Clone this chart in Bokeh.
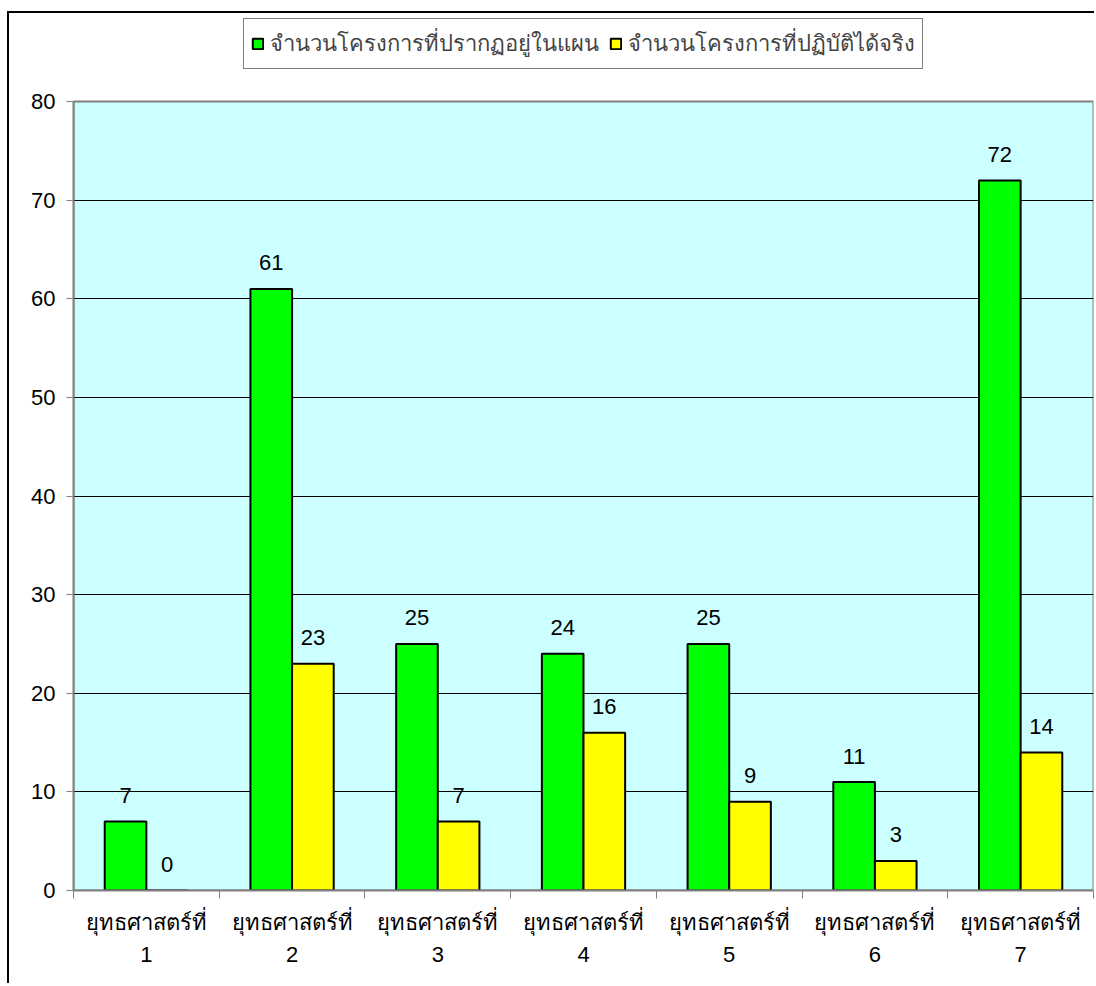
from bokeh.plotting import figure
from bokeh.models import FixedTicker, Range1d, Legend, LegendItem, ColumnDataSource
from bokeh.core.properties import value
from bokeh.embed import file_html
from bokeh.resources import INLINE

categories = ["ยุทธศาสตร์ที่\n1", "ยุทธศาสตร์ที่\n2", "ยุทธศาสตร์ที่\n3", "ยุทธศาสตร์ที่\n4",
              "ยุทธศาสตร์ที่\n5", "ยุทธศาสตร์ที่\n6", "ยุทธศาสตร์ที่\n7"]
planned = [7, 61, 25, 24, 25, 11, 72]
actual = [0, 23, 7, 16, 9, 3, 14]
series_names = ["จำนวนโครงการที่ปรากฏอยู่ในแผน", "จำนวนโครงการที่ปฏิบัติได้จริง"]
y_ticks = [0, 10, 20, 30, 40, 50, 60, 70, 80]
y_max = 80

FONT = "Liberation Sans"
FS = "22px"
n = len(categories)
centers = [i + 0.5 for i in range(n)]
bw = 1 / 3.5

# frame spans from the top of the chart area down to the value 0; the
# plot area (0..80) is drawn as a shaded box, leaving room above for the legend
TOP_PAD_PX = 88
PLOT_PX = 789
y_end = y_max + y_max * TOP_PAD_PX / PLOT_PX

p = figure(width=1087, height=972, output_backend="svg", toolbar_location=None,
           x_range=Range1d(0, n), y_range=Range1d(0, y_end),
           min_border_left=64, min_border_right=3, min_border_top=0, min_border_bottom=95)
p.styles = {"margin-top": "11px", "margin-left": "7px",
            "border-top": "2px solid black", "border-left": "2px solid black"}
p.background_fill_color = "white"
p.border_fill_color = "white"
p.outline_line_color = None

p.quad(left=[0], right=[n], bottom=[0], top=[y_max], fill_color="#CCFFFF",
       line_color="#808080", line_width=2, level="image")

src_g = ColumnDataSource(dict(x=[c - bw / 2 for c in centers], top=planned,
                              lab=[str(v) for v in planned]))
src_y = ColumnDataSource(dict(x=[c + bw / 2 for c in centers], top=actual,
                              lab=[str(v) for v in actual]))

rg = p.vbar(x="x", top="top", width=bw, source=src_g, fill_color="#00FF00",
            line_color="black", line_width=2)
ry = p.vbar(x="x", top="top", width=bw, source=src_y, fill_color="#FFFF00",
            line_color="black", line_width=2)

for src in (src_g, src_y):
    p.text(x="x", y="top", text="lab", source=src, text_align="center",
           text_baseline="middle", y_offset=-26, text_font=value(FONT),
           text_font_size=FS, text_color="black")

p.xgrid.visible = False
p.ygrid.ticker = FixedTicker(ticks=y_ticks[1:-1])
p.ygrid.grid_line_color = "black"
p.ygrid.grid_line_width = 1

p.yaxis.ticker = FixedTicker(ticks=y_ticks)
p.yaxis.bounds = (0, y_max)
p.yaxis.major_tick_out = 7
p.yaxis.major_tick_in = 0
p.yaxis.minor_tick_line_color = None
p.yaxis.axis_line_color = "#808080"
p.yaxis.axis_line_width = 2
p.yaxis.major_tick_line_color = "#808080"
p.yaxis.major_label_standoff = 11
p.yaxis.major_label_text_font = FONT
p.yaxis.major_label_text_font_size = FS
p.yaxis.major_label_text_color = "black"

p.xaxis.ticker = FixedTicker(ticks=centers, minor_ticks=list(range(n + 1)))
p.xaxis.major_label_overrides = {c: lab for c, lab in zip(centers, categories)}
p.xaxis.major_tick_out = 0
p.xaxis.major_tick_in = 0
p.xaxis.minor_tick_out = 8
p.xaxis.minor_tick_in = 0
p.xaxis.minor_tick_line_color = "#808080"
p.xaxis.axis_line_color = "#808080"
p.xaxis.axis_line_width = 2
p.xaxis.major_label_standoff = 11
p.xaxis.major_label_text_font = FONT
p.xaxis.major_label_text_font_size = FS
p.xaxis.major_label_text_color = "black"
p.xaxis.major_label_text_line_height = 1.3

legend = Legend(items=[LegendItem(label=series_names[0], renderers=[rg]),
                       LegendItem(label=series_names[1], renderers=[ry])],
                orientation="horizontal", location="top_center",
                border_line_color="black", border_line_width=1,
                label_text_font=FONT, label_text_font_size=FS,
                glyph_width=13, glyph_height=13, spacing=10, padding=7,
                label_standoff=6, margin=5, background_fill_color="white")
p.add_layout(legend, "center")

open("out.html", "w").write(file_html(p, INLINE))
